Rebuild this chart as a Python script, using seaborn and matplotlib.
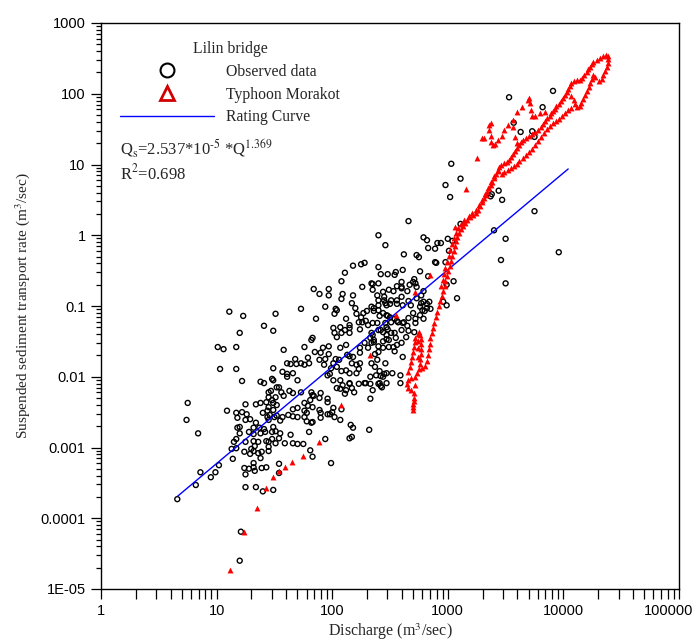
import numpy as np
import pandas as pd
import matplotlib
matplotlib.use("Agg")
import matplotlib.pyplot as plt
import seaborn as sns
from matplotlib.ticker import FixedLocator, FixedFormatter, LogLocator, NullFormatter
from matplotlib.lines import Line2D
from matplotlib.transforms import ScaledTranslation

# ---------------- data: (log10 discharge, log10 sediment rate) ----------------
obs_tail = [(0.66,-3.73),(0.82,-3.53),(0.86,-3.35),(0.99,-3.35),(0.95,-3.42),(0.75,-2.37),(0.74,-2.61),
    (0.84,-2.80),(1.21,-4.19),(1.20,-4.60),(1.02,-3.25),(1.01,-1.58),(1.06,-1.61),(1.11,-1.08),(1.23,-1.14),
    (1.20,-1.38),(1.17,-1.58),(1.03,-1.89),(1.17,-1.89),(1.22,-2.06),(1.38,-2.07),(1.41,-2.09),(1.49,-2.05),
    (1.61,-1.96),(1.54,-2.15),(1.51,-1.11),(1.41,-1.28),(1.49,-1.35),(1.58,-1.62),(1.61,-1.81),(1.49,-1.88)]

obs_core_a = [(1.09,-2.48),(1.17,-2.51),(1.22,-2.50),(1.26,-2.53),(1.18,-2.58),(1.29,-2.60),(1.25,-2.61),
    (1.25,-2.39),(1.34,-2.39),(1.38,-2.37),(1.45,-2.22),(1.47,-2.20),(1.48,-2.33),(1.51,-2.29),(1.52,-2.40),
    (1.44,-2.48),(1.46,-2.54),(1.50,-2.57),(1.45,-2.61),(1.34,-2.65),(1.32,-2.72),(1.37,-2.72),(1.41,-2.74),
    (1.20,-2.71),(1.18,-2.72),(1.20,-2.80),(1.28,-2.78),(1.32,-2.81),(1.38,-2.80),(1.48,-2.78),(1.51,-2.77),
    (1.17,-2.88),(1.15,-2.92),(1.25,-2.92),(1.32,-2.91),(1.36,-2.92),(1.43,-2.91),(1.45,-2.92),(1.51,-2.94),
    (1.13,-3.02),(1.17,-3.01),(1.30,-3.02),(1.33,-2.98),(1.29,-3.09),(1.32,-3.05),(1.36,-3.08),(1.39,-3.06),
    (1.45,-3.05),(1.24,-3.06),(1.38,-3.15),(1.14,-3.16),(1.32,-3.22),(1.32,-3.28),(1.24,-3.29),(1.28,-3.30),
    (1.33,-3.33),(1.39,-3.29),(1.43,-3.28),(1.25,-3.38),(1.25,-3.56),(1.34,-3.56),(1.40,-3.62),(1.49,-3.60),
    (1.54,-3.36),(1.54,-3.23)]

obs_core_b = [(1.81,-3.04),(1.83,-3.13),(1.99,-3.22),(1.75,-2.95),(1.70,-2.95),(1.94,-2.88),(1.80,-2.78),
    (2.17,-2.85),(2.32,-2.75),(2.18,-2.72),(2.16,-2.68),(2.33,-2.31),(2.07,-2.61),(2.02,-2.57),(1.98,-2.53),
    (1.90,-2.58),(1.82,-2.65),(1.78,-2.63),(1.76,-2.57),(1.66,-2.56),(1.70,-2.57),(1.89,-2.47),(1.96,-2.53),
    (1.96,-2.31),(1.89,-2.30),(1.84,-2.27),(1.81,-2.33),(1.76,-2.37),(1.78,-2.51),(1.83,-2.43),(2.07,-2.17),
    (2.11,-2.24),(2.19,-2.22),(2.15,-2.10),(2.23,-2.10),(2.28,-2.09),(2.33,-2.10),(2.40,-2.10),(2.42,-2.13)]

obs_core_c = [(1.48,-2.03),(1.64,-1.82),(1.68,-1.75),(1.69,-1.82),(1.73,-1.81),(1.76,-1.83),(1.80,-1.81),
    (1.79,-1.73),(1.76,-1.58),(1.82,-1.48),(1.85,-1.65),(1.90,-1.66),(1.92,-1.59),(1.97,-1.57),(1.97,-1.68),
    (1.89,-1.76),(1.94,-1.75),(1.93,-1.83),(2.01,-1.81),(2.03,-1.75),(2.06,-1.76),(2.07,-1.59),(2.12,-1.55),
    (2.13,-1.69),(2.15,-1.71),(2.18,-1.72),(2.17,-1.81),(2.21,-1.83),(2.24,-1.81),(2.23,-1.89),(2.21,-1.95),
    (2.15,-1.95),(2.12,-1.91),(2.08,-1.92),(2.04,-1.86),(1.99,-1.88),(1.98,-1.96),(1.96,-1.98),(2.01,-2.05),
    (2.07,-2.05),(2.09,-2.12),(2.15,-2.09),(2.17,-2.16),(2.12,-2.19),(2.04,-2.16),(2.29,-2.09),(2.33,-2.00),
    (2.38,-1.98),(2.42,-1.99),(2.45,-1.96),(2.52,-1.95),(2.47,-2.09),(2.41,-2.09),(2.37,-1.86),(2.46,-1.81),
    (2.39,-1.76),(2.37,-1.68),(2.31,-1.59),(2.24,-1.59),(2.24,-1.66),(2.28,-1.52),(2.33,-1.45),(2.36,-1.51),
    (2.40,-1.57),(2.47,-1.47),(2.49,-1.58),(2.53,-1.58),(2.56,-1.55),(2.15,-2.87),(2.00,-2.50),(2.08,-2.46),
    (2.01,-2.44),(1.96,-2.36),(1.90,-2.23),(1.83,-2.26),(1.82,-2.22),(1.79,-2.41),(1.76,-2.48),(1.83,-2.64),
    (1.90,-2.51),(1.70,-2.44),(1.66,-2.46),(1.62,-2.54),(1.57,-2.57),(1.55,-2.62),(1.52,-2.55),(1.49,-2.47),
    (1.49,-2.37),(1.45,-2.29),(1.43,-2.36),(1.45,-2.43),(1.44,-2.57),(1.49,-2.71),(1.42,-2.78),(1.55,-2.80),
    (1.64,-2.82),(1.54,-2.87),(1.48,-2.88),(1.45,-2.99),(1.66,-2.94),(1.59,-2.94),(1.57,-1.93),(1.61,-2.00),
    (1.66,-1.95),(1.70,-2.05),(1.73,-2.22),(1.66,-2.23),(1.63,-2.20),(1.58,-2.27),(1.56,-2.22),(1.52,-2.15),
    (1.40,-2.51)]

obs_core_d = [(2.66,0.20),(2.40,0.00),(2.46,-0.14),(2.79,-0.03),(2.82,-0.07),(2.91,-0.11),(2.89,-0.19),
    (2.83,-0.18),(2.62,-0.27),(2.73,-0.28),(2.75,-0.31),(2.90,-0.39),(2.76,-0.51),(2.83,-0.58),(2.61,-0.49),
    (2.55,-0.52),(2.54,-0.56),(2.48,-0.55),(2.42,-0.55),(2.40,-0.45),(2.56,-0.72),(2.60,-0.66),(2.60,-0.75),
    (2.53,-0.79),(2.49,-0.77),(2.71,-0.62),(2.72,-0.68),(2.67,-0.70),(2.65,-0.79),(2.60,-0.87),(2.56,-0.92),
    (2.66,-0.93),(2.68,-0.99),(2.73,-0.89),(2.79,-0.79),(2.77,-0.85),(2.79,-0.94),(2.84,-0.94),(2.76,-1.01),
    (2.82,-1.03),(2.85,-1.04),(2.78,-1.06),(2.72,-1.18),(2.79,-1.18),(2.65,-1.28),(2.62,-1.23),(2.57,-1.23),
    (2.54,-1.18),(2.51,-1.23),(2.50,-1.16),(2.47,-1.30),(2.47,-1.13),(2.44,-1.10),(2.40,-1.06),(2.36,-1.07),
    (2.40,-0.92),(2.47,-0.99),(2.51,-0.92),(2.45,-0.92),(2.44,-0.80),(2.40,-0.68),(2.34,-0.68),(2.35,-0.77),
    (2.39,-0.85),(2.34,-1.01),(2.30,-1.07),(2.27,-1.10),(2.25,-1.16),(2.26,-1.23),(2.29,-1.21),(2.31,-1.27),
    (2.23,-1.23),(2.21,-1.11),(2.20,-1.03),(2.17,-0.96),(2.18,-0.85),(2.09,-0.83),(2.08,-0.90),(2.04,-1.06),
    (2.02,-1.11),(2.12,-1.18),(2.15,-1.27),(2.07,-1.30),(2.11,-1.34),(2.15,-1.38),(2.08,-1.38),(2.24,-1.33),
    (2.42,-1.34),(2.51,-1.38),(2.47,-1.41),(2.35,-1.41),(2.64,-1.44),(2.71,-1.37),(2.26,-0.73),(2.18,-0.43),
    (2.25,-0.41),(2.28,-0.39),(2.11,-0.53),(2.08,-0.65),(1.97,-0.76),(1.89,-0.83),(1.97,-0.85),(1.84,-0.76),
    (1.94,-1.01),(2.03,-1.04),(1.73,-1.04),(1.86,-1.18),(1.83,-1.45),(2.01,-1.31),(2.02,-1.38),(2.04,-1.44),
    (2.15,-1.31)]

obs_core_e = [(2.35,-0.69),(2.45,-0.87),(2.60,-0.73),(2.70,-0.66),(2.73,-0.73),(2.82,-0.97),(2.80,-1.07),
    (2.77,-0.96),(2.61,-0.99),(2.56,-0.97),(2.50,-0.97),(2.46,-0.96),(2.40,-0.99),(2.36,-1.03),(2.48,-1.14),
    (2.41,-1.14),(2.35,-1.24),(2.39,-1.24),(2.46,-1.24),(2.56,-1.21),(2.61,-1.24),(2.66,-1.17),(2.70,-1.10),
    (2.76,-1.13),(2.72,-1.24),(2.60,-1.34),(2.66,-1.35),(2.54,-1.38),(2.48,-1.33),(2.44,-1.37),(2.40,-1.34),
    (2.34,-1.38),(2.36,-1.48),(2.34,-1.52),(2.44,-1.50),(2.49,-1.48),(2.55,-1.45),(2.60,-1.52),(2.54,-1.64),
    (2.44,-1.59),(2.40,-1.65),(2.61,-1.72),(2.34,-1.81),(2.41,-1.92),(2.47,-1.95),(2.44,-2.00),(2.59,-1.98),
    (2.59,-2.09),(2.43,-2.15),(2.35,-2.19),(3.08,-0.89),(2.99,-0.99),(2.96,-0.94)]

obs_high = [(3.53,1.95),(3.91,2.04),(3.82,1.81),(3.57,1.59),(3.63,1.46),(3.73,1.47),(3.75,1.39),(3.03,1.01),
    (2.98,0.71),(3.11,0.80),(3.02,0.54),(3.38,0.58),(3.37,0.55),(3.44,0.63),(3.47,0.50),(3.75,0.34),(3.11,0.16),
    (3.40,0.07),(3.50,-0.05),(3.96,-0.24),(3.46,-0.35),(3.50,-0.68),(3.05,-0.65),(2.99,-0.70),(2.98,-0.38),
    (2.94,-0.11),(3.00,-0.05),(3.04,-0.08),(3.01,-0.22),(2.89,-0.38)]

morakot_sparse = [(1.12,-4.73),(1.24,-4.19),(1.35,-3.86),(1.43,-3.57),(1.49,-3.42),(1.54,-3.33),(1.59,-3.28),
    (1.65,-3.20),(1.75,-3.12),(1.89,-2.92),(2.08,-2.40),(2.33,-1.69),(2.55,-1.13),(2.72,-0.80),(2.85,-0.56),
    (3.06,0.12),(3.16,0.65),(3.25,1.09),(3.31,1.37)]

morakot_low = [(2.70,-2.47),(2.70,-2.43),(2.70,-2.39),(2.71,-2.34),(2.71,-2.30),(2.71,-2.23),(2.68,-2.19),
    (2.66,-2.16),(2.65,-2.10),(2.66,-2.05),(2.68,-2.02),(2.72,-2.12),(2.66,-1.93),(2.67,-1.86),(2.68,-1.79),
    (2.69,-1.72),(2.70,-1.65),(2.71,-1.58),(2.72,-1.51),(2.72,-1.45),(2.74,-1.40),(2.75,-1.37),(2.76,-1.41),
    (2.77,-1.47),(2.77,-1.54),(2.77,-1.61),(2.77,-1.68),(2.76,-1.75),(2.76,-1.82),(2.75,-1.89),(2.73,-1.95),
    (2.72,-2.00),(2.74,-1.72),(2.74,-1.60),(2.74,-1.50)]

morakot_rise = [(2.78,-1.88),(2.80,-1.85),(2.82,-1.78),(2.83,-1.69),(2.84,-1.61),(2.85,-1.54),(2.85,-1.45),
    (2.86,-1.38),(2.87,-1.31),(2.88,-1.24),(2.90,-1.16),(2.91,-1.08),(2.92,-1.00),(2.93,-0.93),(2.95,-0.86),
    (2.96,-0.79),(2.98,-0.72),(2.98,-0.65),(2.99,-0.58),(3.00,-0.51),(3.02,-0.44),(3.03,-0.36),(3.04,-0.29),
    (3.05,-0.22),(3.06,-0.15),(3.07,-0.08),(3.08,-0.03),(3.10,0.03),(3.11,0.09),(3.13,0.13),(3.15,0.17),
    (3.17,0.22),(3.19,0.26),(3.22,0.29),(3.24,0.31),(3.26,0.36),(3.28,0.41),(3.30,0.47),(3.31,0.53),(3.33,0.57),
    (3.34,0.61),(3.36,0.67),(3.37,0.71),(3.38,0.75),(3.40,0.81),(3.42,0.87),(3.43,0.91),(3.44,0.96),(3.46,0.99),
    (3.49,1.02),(3.51,1.04),(3.53,1.06),(3.55,1.11),(3.56,1.15),(3.58,1.19),(3.60,1.23),(3.62,1.28),(3.63,1.32),
    (3.65,1.35),(3.68,1.37),(3.70,1.40),(3.73,1.43),(3.75,1.46),(3.78,1.49),(3.81,1.53),(3.82,1.57),(3.84,1.61),
    (3.86,1.66),(3.88,1.69),(3.89,1.73),(3.91,1.76),(3.93,1.78),(3.94,1.83),(3.96,1.86),(3.98,1.90),(4.00,1.94),
    (4.01,1.98),(4.03,2.02),(4.04,2.07),(4.06,2.11),(4.07,2.15),(4.09,2.18),(4.12,2.19),(4.14,2.19)]

morakot_peak = [(4.16,2.22),(4.18,2.27),(4.20,2.31),(4.21,2.35),(4.23,2.38),(4.25,2.42),(4.26,2.45),(4.29,2.48),
    (4.32,2.51),(4.34,2.53),(4.37,2.55),(4.39,2.53),(4.39,2.49),(4.39,2.43),(4.38,2.38),(4.36,2.32),(4.34,2.27),
    (4.33,2.21),(4.31,2.18),(4.27,2.24),(4.26,2.27),(4.25,2.21),(4.23,2.15),(4.22,2.10),(4.20,2.04),(4.19,1.98),
    (4.17,1.93),(4.15,1.87),(4.14,1.83),(4.12,1.81),(4.10,1.86),(4.09,1.91),(4.07,1.97)]

morakot_fall = [(4.07,1.80),(4.04,1.77),(4.01,1.73),(3.99,1.69),(3.96,1.64),(3.94,1.61),(3.91,1.59),(3.88,1.54),
    (3.86,1.50),(3.83,1.45),(3.81,1.39),(3.78,1.33),(3.75,1.28),(3.73,1.22),(3.70,1.18),(3.68,1.13),(3.65,1.09),
    (3.62,1.05),(3.60,1.01),(3.57,0.98),(3.55,0.95),(3.52,0.92),(3.49,0.89),(3.47,0.87)]

morakot_fall_low = [(3.43,0.92),(3.40,0.84),(3.37,0.75),(3.35,0.67),(3.32,0.58),(3.30,0.50),(3.27,0.43),
    (3.24,0.36),(3.21,0.31),(3.18,0.27),(3.14,0.22),(3.11,0.16),(3.09,0.10),(3.07,0.03),(3.05,-0.04),
    (3.04,-0.12),(3.02,-0.21),(3.01,-0.29),(2.99,-0.38),(2.98,-0.46),(2.97,-0.55),(2.96,-0.63),(2.94,-0.72)]

morakot_branch = [(3.56,1.53),(3.58,1.39),(3.60,1.30),(3.56,1.63),(3.60,1.74),(3.64,1.81),(3.69,1.91),(3.70,1.94),
    (3.71,1.87),(3.72,1.77),(3.73,1.69),(3.75,1.69),(3.80,1.73),(3.84,1.74),(3.52,1.56),(3.49,1.49),(3.47,1.40),
    (3.43,1.35),(3.41,1.29),(3.39,1.28),(3.37,1.32),(3.37,1.40),(3.36,1.49),(3.36,1.56),(3.37,1.59),(3.30,1.37)]

rating_a = 2.537e-5
rating_b = 1.369
rating_q = [4.6, 11000.0]

x_ticks = [1, 10, 100, 1000, 10000, 100000]
x_tick_labels = ["1", "10", "100", "1000", "10000", "100000"]
y_ticks = [1e-5, 1e-4, 1e-3, 1e-2, 1e-1, 1, 10, 100, 1000]
y_tick_labels = ["1E-05", "0.0001", "0.001", "0.01", "0.1", "1", "10", "100", "1000"]
legend_title = "Lilin bridge"
legend_labels = ["Observed data", "Typhoon Morakot", "Rating Curve"]

# ---------------- build tables ----------------
def to_frame(*groups):
    arr = np.array([p for g in groups for p in g], dtype=float)
    return pd.DataFrame({"Q": 10 ** arr[:, 0], "Qs": 10 ** arr[:, 1]})

obs = to_frame(obs_tail, obs_core_a, obs_core_b, obs_core_c, obs_core_d, obs_core_e, obs_high)
mor = to_frame(morakot_sparse, morakot_low, morakot_rise, morakot_peak, morakot_fall,
               morakot_fall_low, morakot_branch)
rating = pd.DataFrame({"Q": rating_q})
rating["Qs"] = rating_a * rating["Q"] ** rating_b

# ---------------- plot ----------------
sns.set_style("ticks")
plt.rcParams["font.family"] = ["Liberation Serif", "DejaVu Serif"]
plt.rcParams["mathtext.fontset"] = "stix"

fig = plt.figure(figsize=(6.95, 6.44), dpi=100)
ax = fig.add_axes([101 / 695, 55 / 644, 578 / 695, 566 / 644])
ax.set_xscale("log")
ax.set_yscale("log")

sns.scatterplot(data=obs, x="Q", y="Qs", marker="o", s=13, facecolor="none",
                edgecolor="black", linewidth=1.0, ax=ax, zorder=2)
sns.lineplot(data=rating, x="Q", y="Qs", color="#0000ff", linewidth=1.0, ax=ax, zorder=3)
sns.scatterplot(data=mor, x="Q", y="Qs", marker="^", s=18, color="#ff0000",
                linewidth=0, ax=ax, zorder=4)

ax.set_xlim(1, 1e5)
ax.set_ylim(1e-5, 1e3)
ax.xaxis.set_major_locator(FixedLocator(x_ticks))
ax.xaxis.set_major_formatter(FixedFormatter(x_tick_labels))
ax.yaxis.set_major_locator(FixedLocator(y_ticks))
ax.yaxis.set_major_formatter(FixedFormatter(y_tick_labels))
for axis in (ax.xaxis, ax.yaxis):
    axis.set_minor_locator(LogLocator(base=10, subs=np.arange(2, 10), numticks=100))
    axis.set_minor_formatter(NullFormatter())

ax.tick_params(which="both", direction="out", top=False, right=False, color="black", width=0.9)
ax.tick_params(axis="x", which="both", length=7, pad=4)
ax.tick_params(axis="y", which="major", length=7, pad=4)
ax.tick_params(axis="y", which="minor", length=3.5)
ax.tick_params(labelsize=10.5, labelfontfamily="Liberation Sans", labelcolor="black")
for sp in ax.spines.values():
    sp.set_color("black")
    sp.set_linewidth(1.0)

ax.set_xlabel(r"Discharge (m$^{3}$/sec)", fontsize=11.5, labelpad=2)
ax.set_ylabel(r"Suspended sediment transport rate (m$^{3}$/sec)", fontsize=11, labelpad=6)

handles = [
    Line2D([], [], ls="none", marker="o", markersize=10, mfc="none", mec="black", mew=1.5),
    Line2D([], [], ls="none", marker="^", markersize=10, mfc="none", mec="#d00000", mew=2),
    Line2D([], [], color="#0000ff", lw=1.0),
]
leg = ax.legend(handles, legend_labels, title=legend_title, loc="upper left",
                bbox_to_anchor=(0.033, 0.968), frameon=False, handlelength=6.0,
                handletextpad=0.75, labelspacing=0.43, borderpad=0, borderaxespad=0,
                prop={"family": "Liberation Serif", "size": 11.3},
                title_fontproperties={"family": "Liberation Serif", "size": 11.3})

ax.text(0.033, 0.779, r"Q$_{\mathrm{s}}$=2.537*10$^{\text{-5}}$ *Q$^{1.369}$", transform=ax.transAxes,
        fontsize=12, va="center", ha="left")
ax.text(0.033, 0.735, r"R$^{2}$=0.698", transform=ax.transAxes, fontsize=12, va="center", ha="left")

# keep the last x tick label inside the figure, as in the reference
fig.canvas.draw()
last = ax.xaxis.get_major_ticks()[-1].label1
last.set_transform(last.get_transform() + ScaledTranslation(-10 / 100, 0, fig.dpi_scale_trans))

fig.savefig("out.png", dpi=100)
